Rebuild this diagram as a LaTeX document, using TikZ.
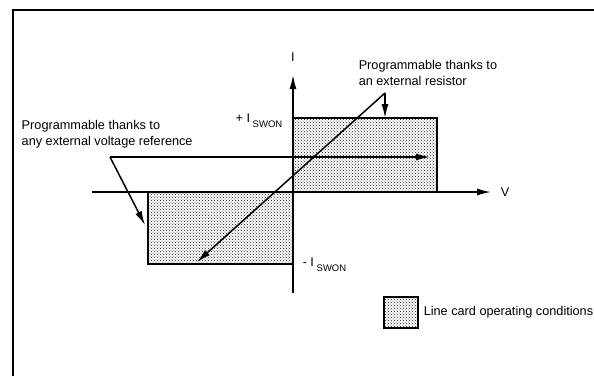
\documentclass[tikz,border=0pt]{standalone}
\usepackage{fontspec}
\setmainfont{Liberation Sans}
\usetikzlibrary{arrows.meta,patterns}

\begin{document}
\begin{tikzpicture}[x=1pt,y=1pt,line width=1.5pt,
    every node/.style={font=\fontsize{12.7}{16}\selectfont,inner sep=0pt},
    tip/.style={-{Latex[length=14pt,width=7pt]}},
    zone/.style={draw,pattern=crosshatch dots,pattern color=black!90}]
  \useasboundingbox (-293,-184) rectangle (301,192);

  %frame
  \draw[line width=2.5pt] (-280,-184) -- (-280,182) -- (301,182);

  %operating zones
  \draw[zone] (0,0) rectangle (144,74);
  \draw[zone] (-145,0) rectangle (0,-72);

  %axes
  \coordinate (origin) at (0,0);
  \coordinate (vstart) at (-201,0);
  \coordinate (vend) at (198,0);
  \coordinate (istart) at (0,-101);
  \coordinate (iend) at (0,117);
  \draw[tip] (vstart) -- (vend);
  \draw[tip] (istart) -- (iend);
  \node[anchor=west] (vlabel) at (207,0) {V};
  \node (ilabel) at (0,135) {I};
  \node[anchor=east] (iswonpos) at (-10,71) {+ I\raisebox{-5pt}{\fontsize{9.5}{10}\selectfont\ SWON}};
  \node[anchor=west] (iswonneg) at (9,-73) {- I\raisebox{-5pt}{\fontsize{9.5}{10}\selectfont\ SWON}};

  %resistor note
  \node[anchor=west,align=left] (resnote) at (65,119) {Programmable thanks to\\an external resistor};
  \coordinate (apex) at (92,99);
  \coordinate (ztop) at (92,74);
  \coordinate (lowtip) at (-96,-70);
  \draw[tip] (apex) -- (ztop);
  \draw[tip] (apex) -- (lowtip);

  %voltage note
  \node[anchor=west,align=left] (voltnote) at (-272,58) {Programmable thanks to\\any external voltage reference};
  \coordinate (bend) at (-183,35);
  \coordinate (righttip) at (137,35);
  \coordinate (lefttip) at (-148,-33);
  \draw[tip] (bend) -- (righttip);
  \draw[tip] (bend) -- (lefttip);

  %legend
  \node[zone,line width=2pt,minimum width=34pt,minimum height=31pt,anchor=north west] (legendbox) at (90,-104) {};
  \node[anchor=west,xshift=4pt] (legendtext) at (legendbox.east) {Line card operating conditions};
\end{tikzpicture}
\end{document}
